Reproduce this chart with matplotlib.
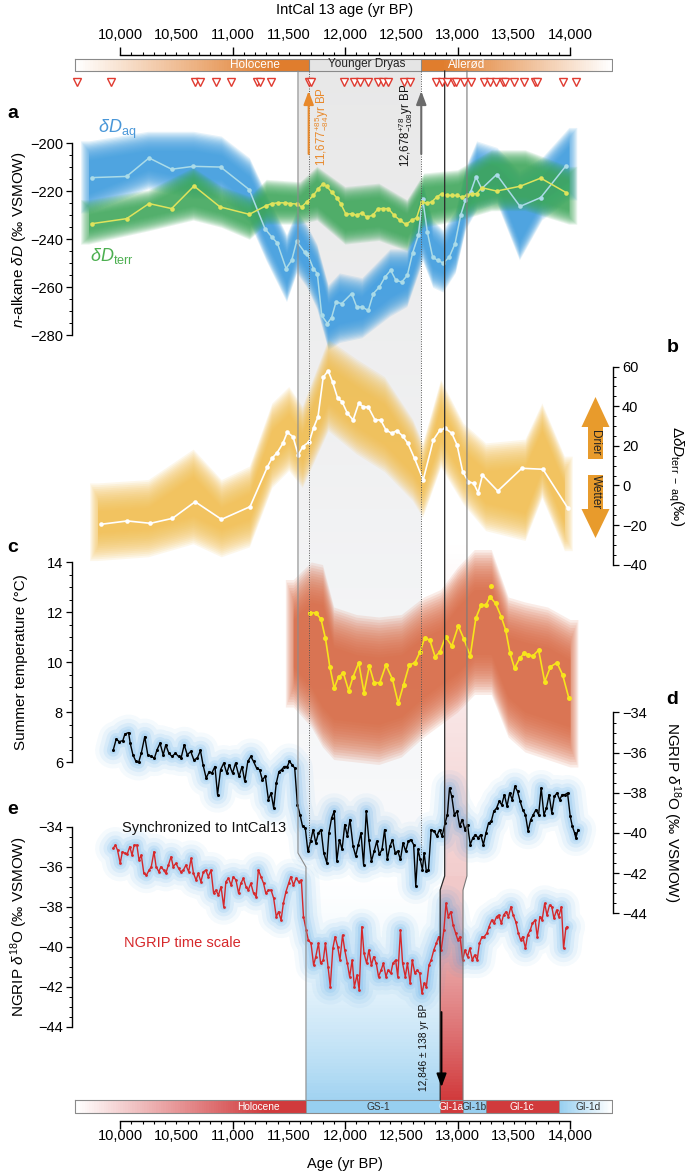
import numpy as np
import matplotlib
matplotlib.use('Agg')
import matplotlib.pyplot as plt
from matplotlib.patches import Polygon
from matplotlib.ticker import FixedLocator, FuncFormatter
from matplotlib.colors import to_rgb

plt.rcParams['font.family'] = ['Liberation Sans', 'DejaVu Sans']
plt.rcParams['mathtext.fontset'] = 'custom'
plt.rcParams['mathtext.rm'] = 'Liberation Sans'
plt.rcParams['mathtext.it'] = 'Liberation Sans:italic'
plt.rcParams['mathtext.bf'] = 'Liberation Sans:bold'

# ---------------- data (ages in yr BP) ----------------
# a: n-alkane dD
aq_yr = [9748, 10059, 10258, 10459, 10652, 10895, 11149, 11289, 11348, 11398, 11476, 11526, 11570, 11640, 11665,
         11719, 11754, 11793, 11843, 11881, 11920, 11970, 12059, 12104, 12148, 12207, 12252, 12305, 12356, 12406,
         12453, 12504, 12554, 12601, 12652, 12690, 12732, 12779, 12824, 12874, 12927, 12978, 13028, 13069, 13117,
         13164, 13215, 13348, 13556, 13740, 13964]
aq_val = [-214.3, -213.8, -206.1, -210.8, -209.6, -209.9, -219.3, -235.6, -239.0, -241.5, -252.2, -248.8, -240.8,
          -245.3, -246.0, -252.2, -254.3, -271.7, -275.1, -272.6, -266.1, -266.8, -262.6, -268.2, -268.2, -269.6,
          -262.6, -259.9, -255.7, -252.9, -257.1, -257.8, -255.0, -245.7, -238.3, -223.0, -237.0, -247.4, -248.8,
          -249.9, -247.4, -241.8, -230.0, -223.8, -220.3, -214.0, -218.9, -213.0, -226.3, -222.6, -209.4]
aq_band_yr = [9720, 10250, 10650, 10900, 11150, 11300, 11480, 11570, 11660, 11750, 11850, 11950, 12150, 12400,
              12550, 12690, 12780, 12870, 12980, 13070, 13170, 13350, 13550, 13750, 13990]
aq_band_hi = [-203, -199, -199, -201, -210, -225, -242, -232, -238, -246, -263, -258, -260, -248, -248, -220, -236,
              -240, -232, -214, -203, -205.7, -215.4, -209.9, -197.4]
aq_band_lo = [-225, -215, -219, -219, -229, -245, -262, -250, -256, -265, -282, -279, -277, -268, -264, -245, -256,
              -258, -250, -232, -223.8, -221, -244.6, -227.9, -219.6]

terr_yr = [9748, 10059, 10258, 10459, 10658, 10889, 11149, 11295, 11348, 11407, 11467, 11511, 11570, 11615, 11659,
           11719, 11763, 11801, 11837, 11881, 11926, 11961, 12009, 12059, 12104, 12148, 12193, 12246, 12296, 12341,
           12385, 12436, 12489, 12542, 12593, 12637, 12681, 12726, 12770, 12815, 12859, 12909, 12948, 12993, 13037,
           13081, 13126, 13170, 13215, 13348, 13556, 13740, 13964]
terr_val = [-233.5, -231.4, -225.1, -227.2, -217.8, -226.5, -229.6, -226.1, -225.1, -224.8, -224.8, -225.1, -225.3,
            -226.5, -224.5, -221.7, -218.9, -217.1, -217.9, -220.3, -222.6, -225.1, -229.6, -229.3, -230.0, -229.0,
            -230.7, -230.0, -227.2, -227.2, -227.2, -230.0, -232.1, -233.8, -232.1, -231.0, -224.5, -224.9, -224.5,
            -222.4, -221.0, -221.7, -221.7, -221.7, -222.4, -221.7, -221.0, -221.0, -218.5, -219.9, -217.9, -214.5,
            -220.5]
terr_band_yr = [9720, 10250, 10650, 10900, 11150, 11300, 11600, 11750, 12000, 12300, 12550, 12700, 13000, 13300,
                13600, 13990]
terr_band_hi = [-226.5, -222.4, -213, -220.8, -225, -218, -219, -212.6, -221, -219.6, -226.5, -215.4, -214, -205.7,
                -205.7, -212.6]
terr_band_lo = [-239, -233.5, -229, -232, -237, -230.7, -230.7, -229, -239, -237.5, -241.8, -232, -229.3, -225.1,
                -225, -230.7]

# b: terr - aq difference
b_yr = [9830, 10064, 10270, 10466, 10668, 10902, 11156, 11311, 11350, 11397, 11448, 11487, 11538, 11584, 11624,
        11682, 11721, 11760, 11806, 11850, 11889, 11935, 11974, 12021, 12072, 12122, 12161, 12208, 12267, 12317,
        12364, 12415, 12461, 12512, 12559, 12618, 12695, 12785, 12844, 12891, 12949, 12996, 13046, 13097, 13144,
        13183, 13222, 13358, 13572, 13760, 13982]
b_val = [-19.6, -17.9, -19.1, -16.6, -8.2, -17.1, -10.7, 9.5, 13.7, 16.6, 21.3, 26.9, 24.6, 15.4, 19.6, 22.1, 29.2,
         34.7, 54.6, 58.0, 52.4, 44.0, 42.3, 36.5, 33.1, 41.5, 39.8, 39.5, 33.1, 33.1, 28.0, 26.4, 27.7, 25.0, 21.3,
         13.7, 2.8, 23.0, 28.0, 28.9, 26.4, 20.5, 7.0, 1.9, 1.1, -3.6, 5.3, -2.8, 8.7, 8.2, -11.5]
b_band_yr = [9800, 10250, 10650, 10900, 11150, 11350, 11500, 11620, 11850, 12100, 12350, 12600, 12690, 12850, 13050,
             13250, 13600, 13750, 13950]
b_band_hi = [-5.7, -4, 11.4, -4, 2.8, 34.7, 43, 33, 67, 57, 48, 26.5, 14.5, 46.6, 24.6, 14.5, 16.4, 34.7, 7.8]
b_band_lo = [-30.9, -29, -22.4, -29, -24, 6, 14.6, 6, 34.7, 23, 14, -0.6, -9, 16.4, -2.3, -15.8, -20.8, 1, -25.9]

# c: summer temperature
c_yr = [11693, 11740, 11787, 11826, 11865, 11904, 11943, 11986, 12033, 12072, 12122, 12169, 12216, 12259, 12309,
        12364, 12422, 12473, 12520, 12571, 12621, 12668, 12707, 12754, 12801, 12844, 12894, 12949, 13007, 13058,
        13113, 13163, 13210, 13253, 13288, 13338, 13389, 13428, 13467, 13507, 13553, 13592, 13631, 13670, 13721,
        13775, 13826, 13884, 13935, 13990]
c_val = [11.97, 11.97, 11.71, 10.95, 9.81, 8.95, 9.41, 9.55, 8.85, 9.41, 9.97, 8.77, 9.84, 9.17, 9.17, 9.88, 9.31,
         8.35, 9.08, 9.88, 9.97, 10.41, 10.95, 10.88, 10.21, 10.41, 11.01, 10.64, 11.44, 10.91, 10.24, 11.75, 12.28,
         12.28, 12.61, 12.35, 11.81, 11.28, 10.35, 9.75, 10.15, 10.35, 10.28, 10.24, 10.48, 9.21, 9.81, 9.97, 9.48,
         8.55]
c_lone_yr, c_lone_val = [13300], [13.04]
c_band_yr = [11540, 11700, 11800, 11900, 12100, 12300, 12500, 12700, 12850, 13000, 13150, 13300, 13450, 13600,
             13800, 14000]
c_band_hi = [12.5, 13.2, 13.1, 11.4, 11.1, 11.0, 11.1, 11.8, 12.1, 13.0, 13.7, 13.7, 11.8, 11.6, 11.4, 10.9]
c_band_lo = [9.0, 8.2, 7.4, 6.9, 6.8, 6.7, 7.0, 7.8, 8.3, 8.8, 9.5, 9.5, 7.8, 7.2, 6.9, 6.6]

# d: NGRIP d18O synchronized to IntCal13
d_yr = [9939, 9966, 9994, 10025, 10044, 10076, 10091, 10115, 10142, 10165, 10189, 10220, 10247, 10278, 10306, 10329,
        10356, 10384, 10407, 10434, 10462, 10493, 10520, 10543, 10571, 10598, 10629, 10656, 10687, 10715, 10738,
        10766, 10793, 10816, 10844, 10867, 10894, 10922, 10949, 10972, 11000, 11027, 11058, 11085, 11109, 11136,
        11163, 11187, 11214, 11241, 11265, 11292, 11319, 11343, 11366, 11389, 11413, 11436, 11460, 11487, 11506,
        11530, 11553, 11577, 11600, 11623, 11647, 11670, 11694, 11717, 11740, 11764, 11787, 11811, 11838, 11857,
        11881, 11904, 11927, 11951, 11974, 11998, 12021, 12044, 12072, 12095, 12118, 12142, 12165, 12189, 12212,
        12235, 12259, 12282, 12305, 12329, 12352, 12376, 12399, 12422, 12446, 12469, 12493, 12516, 12539, 12563,
        12586, 12610, 12629, 12649, 12668, 12688, 12703, 12723, 12742, 12766, 12793, 12816, 12840, 12863, 12890,
        12910, 12929, 12949, 12972, 12996, 13019, 13042, 13066, 13089, 13113, 13136, 13159, 13183, 13206, 13230,
        13253, 13276, 13300, 13323, 13347, 13370, 13393, 13417, 13440, 13463, 13487, 13510, 13534, 13557, 13580,
        13604, 13627, 13651, 13674, 13697, 13721, 13744, 13768, 13791, 13814, 13838, 13861, 13884, 13908, 13931,
        13955, 13978, 14002, 14021, 14041, 14052, 14072]
d_val = [-35.89, -35.33, -35.45, -35.40, -35.07, -35.00, -35.53, -36.11, -36.44, -36.49,
         -36.03, -35.20, -36.11, -36.19, -36.27, -35.86, -35.53, -36.11, -35.61, -36.03,
         -36.19, -36.03, -36.19, -36.27, -35.61, -36.11, -35.94, -36.36, -36.27, -35.89,
         -36.60, -37.27, -36.94, -37.02, -36.69, -38.09, -36.85, -36.52, -37.02, -36.60,
         -37.02, -36.52, -37.18, -36.69, -37.43, -36.44, -36.19, -36.44, -36.77, -36.85,
         -37.35, -37.18, -38.34, -38.01, -38.76, -37.52, -36.94, -36.85, -36.69, -36.69,
         -36.44, -36.60, -36.77, -38.59, -39.09, -39.67, -39.75, -40.91, -40.41, -39.83,
         -40.49, -40.00, -39.83, -40.99, -41.48, -40.00, -39.25, -38.92, -41.40, -40.33,
         -40.82, -39.58, -40.16, -39.33, -40.66, -41.15, -40.58, -40.00, -41.57, -38.92,
         -40.33, -41.40, -40.91, -40.41, -41.07, -40.82, -39.83, -41.32, -40.66, -40.33,
         -40.99, -40.91, -41.32, -40.49, -40.91, -40.41, -40.33, -40.58, -42.64, -40.82,
         -41.32, -41.82, -40.99, -41.90, -41.82, -39.83, -39.91, -40.16, -39.83, -40.16,
         -39.50, -39.09, -37.76, -38.18, -39.09, -38.92, -39.67, -39.33, -39.83, -39.58,
         -40.58, -40.25, -40.08, -40.25, -40.08, -40.58, -40.00, -39.50, -39.42, -38.92,
         -38.76, -38.43, -38.59, -38.09, -38.67, -38.01, -38.34, -37.68, -37.93, -38.43,
         -38.84, -39.09, -39.91, -39.33, -39.09, -38.84, -39.09, -37.76, -39.09, -38.76,
         -38.09, -39.00, -38.18, -38.01, -38.34, -38.09, -38.09, -38.01, -39.17, -39.67,
         -40.00, -40.25, -39.83]

# e: NGRIP d18O on the NGRIP time scale
e_yr = [9939, 9959, 9978, 10002, 10021, 10044, 10064, 10087, 10107, 10126, 10150, 10169, 10189, 10212, 10235, 10259,
        10278, 10302, 10321, 10345, 10364, 10388, 10407, 10430, 10454, 10473, 10497, 10520, 10540, 10563, 10586,
        10610, 10633, 10653, 10676, 10696, 10719, 10742, 10762, 10785, 10809, 10832, 10852, 10875, 10898, 10922,
        10941, 10964, 10988, 11007, 11031, 11054, 11074, 11097, 11120, 11140, 11163, 11187, 11210, 11230, 11253,
        11276, 11296, 11319, 11343, 11366, 11389, 11409, 11432, 11452, 11475, 11499, 11518, 11542, 11565, 11588,
        11612, 11631, 11655, 11674, 11698, 11721, 11740, 11764, 11783, 11807, 11826, 11849, 11869, 11892, 11912,
        11935, 11955, 11978, 11998, 12021, 12041, 12064, 12083, 12107, 12126, 12150, 12169, 12192, 12212, 12235,
        12255, 12278, 12298, 12321, 12341, 12364, 12383, 12407, 12426, 12450, 12469, 12493, 12512, 12536, 12555,
        12579, 12598, 12621, 12641, 12664, 12684, 12703, 12723, 12746, 12766, 12789, 12812, 12832, 12855, 12879,
        12898, 12918, 12941, 12961, 12984, 13003, 13023, 13046, 13066, 13089, 13109, 13132, 13152, 13175, 13195,
        13218, 13237, 13261, 13280, 13304, 13323, 13347, 13366, 13390, 13409, 13432, 13452, 13475, 13495, 13518,
        13541, 13561, 13580, 13604, 13623, 13647, 13666, 13690, 13709, 13732, 13752, 13775, 13795, 13818, 13838,
        13857, 13881, 13900, 13924, 13943, 13963, 13974]
e_val = [-35.08, -34.92, -35.17, -35.83, -35.25, -35.33, -35.37, -35.00, -35.42, -34.92,
         -34.92, -35.67, -35.42, -36.33, -36.42, -36.17, -36.00, -35.25, -36.00, -36.25,
         -36.00, -36.17, -36.33, -35.92, -35.50, -36.00, -35.83, -36.08, -36.25, -36.17,
         -35.92, -36.25, -35.58, -36.33, -36.67, -36.33, -36.75, -36.25, -36.17, -36.50,
         -36.17, -37.33, -37.17, -37.42, -37.00, -38.00, -36.75, -36.58, -36.92, -36.50,
         -36.67, -37.33, -36.83, -36.58, -37.00, -37.17, -36.83, -37.33, -37.50, -36.17,
         -36.50, -36.83, -37.33, -37.17, -37.17, -37.58, -38.50, -38.25, -38.67, -37.83,
         -37.25, -36.83, -36.50, -36.92, -36.58, -36.75, -36.67, -38.50, -39.17, -39.67,
         -39.83, -40.92, -40.50, -39.83, -40.83, -40.67, -39.83, -41.00, -42.00, -40.08,
         -39.50, -40.00, -40.67, -39.42, -40.17, -40.83, -41.50, -40.67, -42.00, -41.42,
         -42.17, -39.00, -40.33, -40.83, -40.17, -40.92, -40.50, -40.83, -41.50, -41.17,
         -40.83, -41.50, -41.17, -41.33, -40.83, -40.67, -41.50, -39.17, -40.83, -41.50,
         -40.83, -41.83, -40.67, -41.33, -41.17, -41.33, -42.33, -41.83, -42.00, -40.92,
         -40.67, -40.17, -39.83, -39.50, -40.17, -39.17, -37.83, -38.50, -38.25, -38.92,
         -39.33, -39.67, -39.50, -40.67, -40.17, -40.50, -40.08, -40.67, -40.42, -40.67,
         -39.83, -39.50, -39.50, -39.33, -39.00, -38.67, -38.83, -38.50, -38.42, -38.83,
         -38.42, -38.25, -38.50, -38.00, -38.42, -38.75, -39.33, -39.67, -39.50, -40.08,
         -39.42, -39.17, -38.83, -38.67, -39.50, -38.50, -38.67, -37.83, -38.42, -37.92,
         -38.00, -38.58, -38.17, -38.50, -38.00, -40.08, -39.08, -39.00]

# radiocarbon dated levels (triangles)
tri_yr = [9615, 9917, 10667, 10711, 10853, 10984, 11215, 11244, 11340, 11678, 11700, 11991, 12080, 12133, 12204,
          12293, 12340, 12382, 12524, 12578, 12809, 12862, 12908, 12969, 12987, 13058, 13122, 13236, 13289, 13342,
          13406, 13424, 13502, 13591, 13691, 13705, 13940, 14053]

age_ticks = [10000, 11000, 12000, 13000, 14000]
age_minor = list(range(10000, 14001, 100))
a_ticks, a_minor = [-280, -260, -240, -220, -200], list(range(-280, -199, 5))
b_ticks, b_minor = [-40, -20, 0, 20, 40, 60], list(range(-40, 61, 5))
c_ticks, c_minor = [6, 8, 10, 12, 14], list(np.arange(6, 14.01, 0.5))
o_ticks, o_minor = [-44, -42, -40, -38, -36, -34], list(np.arange(-44, -33.9, 0.5))

# top / bottom stratigraphic bars
top_bar = [('Holocene', 9600, 11677), ('Younger Dryas', 11677, 12678), ('Allerød', 12678, 14373)]
bot_bar = [('Holocene', 9600, 11653), ('GS-1', 11653, 12846), ('GI-1a', 12846, 13049),
           ('GI-1b', 13049, 13253), ('GI-1c', 13253, 13902), ('GI-1d', 13902, 14373)]

# ---------------- layout ----------------
W, H = 685, 1173
X0, X1 = 72, 613
YR0 = 10000 + (X0 - 120) / 0.1125
YR1 = 10000 + (X1 - 120) / 0.1125

ORANGE = '#e07d2d'
RED = '#d13a3c'
LBLUE = '#97cff0'

fig = plt.figure(figsize=(W / 100, H / 100), dpi=100)


def box(top, bottom):
    return [X0 / W, 1 - bottom / H, (X1 - X0) / W, (bottom - top) / H]


def ftext(x, y, s, **kw):
    kw.setdefault('ha', 'center')
    kw.setdefault('va', 'center')
    fig.text(x / W, 1 - y / H, s, **kw)


def mix(c0, c1, t):
    c0, c1 = np.array(to_rgb(c0)), np.array(to_rgb(c1))
    return tuple(c0 + (c1 - c0) * t)


def vgrad(ax, xl, xr, y0, y1, c0, c1, n=70, gamma=1.0):
    ys = np.linspace(y0, y1, n + 1)
    for i in range(n):
        t = (i / (n - 1)) ** gamma
        ax.fill_between([xl, xr], ys[i], ys[i + 1] + 0.6, color=mix(c0, c1, t), lw=0, antialiased=False)


def hgrad(ax, x0, x1, y0, y1, c0, c1, n=80):
    xs = np.linspace(x0, x1, n + 1)
    for i in range(n):
        ax.fill_between([xs[i], xs[i + 1] + 3], y0, y1, color=mix(c0, c1, i / (n - 1)), lw=0, antialiased=False)


def fuzzy_band(ax, x, lo, hi, color, spread, xspread=70, layers=16, alpha=0.11):
    # stack of slightly shifted envelopes gives the blurred look of the ensemble bands
    x = list(x)
    lo, hi = list(lo), list(hi)
    for i in range(layers):
        f = 1 - 2 * i / (layers - 1)
        e = spread * f
        ex = xspread * max(f, 0)
        xx = [x[0] - ex] + x + [x[-1] + ex]
        ll = np.array([lo[0]] + lo + [lo[-1]]) - e
        hh = np.array([hi[0]] + hi + [hi[-1]]) + e
        ax.fill_between(xx, ll, hh, color=color, alpha=alpha, lw=0)


def glow(ax, x, y, color):
    for lw, a in [(26, 0.05), (20, 0.07), (14, 0.09), (9, 0.12), (5, 0.14)]:
        ax.plot(x, y, color=color, lw=lw, alpha=a, solid_joinstyle='round', solid_capstyle='round')


def minus(v, pos=None):
    return ('%g' % v).replace('-', '\u2212')


def panel(top, bottom, v_ref, y_ref, ppu, side, ticks, minor):
    ax = fig.add_axes(box(top, bottom))
    ax.set_xlim(YR0, YR1)
    ax.set_ylim(v_ref - (bottom - y_ref) / ppu, v_ref + (y_ref - top) / ppu)
    ax.patch.set_visible(False)
    for s in ax.spines.values():
        s.set_visible(False)
    ax.spines[side].set_visible(True)
    ax.spines[side].set_bounds(min(ticks), max(ticks))
    ax.spines[side].set_linewidth(1.0)
    ax.set_xticks([])
    ax.yaxis.set_ticks_position(side)
    ax.yaxis.set_major_locator(FixedLocator(ticks))
    ax.yaxis.set_minor_locator(FixedLocator(minor))
    ax.yaxis.set_major_formatter(FuncFormatter(minus))
    ax.tick_params(axis='y', which='major', length=4, width=0.9, labelsize=10.5, pad=2.5)
    ax.tick_params(axis='y', which='minor', length=2, width=0.7)
    return ax


# background shading (x in years, y in pixels)
bg = fig.add_axes([X0 / W, 0, (X1 - X0) / W, 1])
bg.set_xlim(YR0, YR1)
bg.set_ylim(H, 0)
bg.axis('off')
bg.set_zorder(-1)
vgrad(bg, 11582, 12678, 71, 858, '#e8e8e8', '#f8f9fb')
vgrad(bg, 11653, 12846, 862, 1100, '#ffffff', '#a2d3f1', gamma=1.8)
vgrad(bg, 12886, 13084, 540, 877, '#ffffff', '#f2cdcd')
bg.add_patch(Polygon([(12886, 876), (13084, 876), (13049, 891), (12846, 891)], closed=True,
                     facecolor='#f1c9c9', lw=0))
vgrad(bg, 12846, 13049, 890, 1100, '#f0c6c6', RED, gamma=1.3)

# ---------------- panels ----------------
ax_a = panel(95, 350, -200, 143.3, 2.4, 'left', a_ticks, a_minor)
fuzzy_band(ax_a, aq_band_yr, aq_band_lo, aq_band_hi, '#3d9de0', 4, alpha=0.13)
fuzzy_band(ax_a, terr_band_yr, terr_band_lo, terr_band_hi, '#3ea85a', 3, alpha=0.12)
ax_a.plot(aq_yr, aq_val, '-o', color='#aadbe8', lw=1.1, ms=3.3, mew=0)
ax_a.plot(terr_yr, terr_val, '-o', color='#dfe35c', lw=1.1, ms=3.3, mew=0)

ax_b = panel(340, 580, 60, 366.7, 1.98, 'right', b_ticks, b_minor)
fuzzy_band(ax_b, b_band_yr, b_band_lo, b_band_hi, '#f2bc48', 7)
ax_b.plot(b_yr, b_val, '-o', color='white', lw=1.2, ms=3.3, mew=0)

ax_c = panel(540, 800, 14, 562, 25, 'left', c_ticks, c_minor)
fuzzy_band(ax_c, c_band_yr, c_band_lo, c_band_hi, '#d9663f', 0.8, alpha=0.12)
ax_c.plot(c_yr, c_val, '-o', color='#f7e41c', lw=1.2, ms=3.6, mew=0)
ax_c.plot(c_lone_yr, c_lone_val, 'o', color='#f7e41c', ms=3.6, mew=0)

ax_d = panel(690, 930, -34, 712.5, 20.08, 'right', o_ticks, o_minor)
glow(ax_d, d_yr, d_val, '#3f9de6')
ax_d.plot(d_yr, d_val, '-o', color='black', lw=1.0, ms=2.2, mew=0)

ax_e = panel(800, 1045, -34, 826.7, 20, 'left', o_ticks, o_minor)
glow(ax_e, e_yr, e_val, '#3f9de6')
ax_e.plot(e_yr, e_val, '-o', color='#d6282b', lw=1.0, ms=2.0, mew=0)


# ---------------- age axes ----------------
def age_axis(y_spine, top):
    if top:
        ax = fig.add_axes([X0 / W, 1 - (y_spine + 1) / H, (X1 - X0) / W, 1 / H])
    else:
        ax = fig.add_axes([X0 / W, 1 - y_spine / H, (X1 - X0) / W, 1 / H])
    ax.set_xlim(YR0, YR1)
    ax.patch.set_visible(False)
    ax.set_yticks([])
    side = 'top' if top else 'bottom'
    for s in ax.spines.values():
        s.set_visible(False)
    ax.spines[side].set_visible(True)
    ax.spines[side].set_bounds(10000, 14000)
    ax.spines[side].set_linewidth(1.0)
    ax.xaxis.set_ticks_position(side)
    ax.xaxis.set_major_locator(FixedLocator(age_ticks))
    ax.xaxis.set_minor_locator(FixedLocator(age_minor))
    ax.xaxis.set_major_formatter(FuncFormatter(lambda v, p: f'{v:,.0f}'))
    ax.xaxis.set_minor_formatter(FuncFormatter(lambda v, p: f'{v:,.0f}' if round(v) % 500 == 0 else ''))
    gap = 9.5 if top else 5.8
    ax.tick_params(axis='x', which='major', length=5.6, width=1.0, labelsize=10.5, pad=gap - 5.6)
    ax.tick_params(axis='x', which='minor', length=2.5, width=0.8, labelsize=10.5, pad=gap - 2.5)
    return ax


age_axis(55, True)
age_axis(1121, False)
ftext(345, 10, 'IntCal 13 age (yr BP)', fontsize=10.5)
ftext(345, 1164, 'Age (yr BP)', fontsize=10.5)

# ---------------- overlay (bars, lines, triangles, arrows) ----------------
ov = fig.add_axes([X0 / W, 0, (X1 - X0) / W, 1])
ov.set_xlim(YR0, YR1)
ov.set_ylim(H, 0)
ov.axis('off')
ov.set_zorder(10)

# top bar
ty0, ty1 = 58.5, 71
hgrad(ov, 9600, 11400, ty0, ty1, '#ffffff', ORANGE)
ov.fill_between([11400, 11677], ty0, ty1, color=ORANGE, lw=0)
ov.fill_between([11677, 12678], ty0, ty1, color='#e5e5e5', lw=0)
ov.fill_between([12678, 12860], ty0, ty1, color=ORANGE, lw=0)
hgrad(ov, 12860, 14373, ty0, ty1, ORANGE, '#ffffff')
ov.plot([9600, 14373, 14373, 9600, 9600], [ty0, ty0, ty1, ty1, ty0], color='#8a8a8a', lw=0.8)
for x in [11677, 12678]:
    ov.plot([x, x], [ty0, ty1], color='#8a8a8a', lw=0.8)
ov.text(11197, 65, 'Holocene', color='white', fontsize=8.5, ha='center', va='center')
ov.text(12195, 64.5, 'Younger Dryas', color='#222222', fontsize=8.5, ha='center', va='center')
ov.text(13084, 65, 'Allerød', color='white', fontsize=8.5, ha='center', va='center')

# bottom bar
by0, by1 = 1100, 1112.7
hgrad(ov, 9600, 11300, by0, by1, '#ffffff', RED)
ov.fill_between([11300, 11653], by0, by1, color=RED, lw=0)
ov.fill_between([11653, 12846], by0, by1, color=LBLUE, lw=0)
ov.fill_between([12846, 13049], by0, by1, color=RED, lw=0)
ov.fill_between([13049, 13253], by0, by1, color=LBLUE, lw=0)
ov.fill_between([13253, 13902], by0, by1, color=RED, lw=0)
hgrad(ov, 13902, 14373, by0, by1, LBLUE, '#ffffff', n=40)
ov.plot([9600, 14373, 14373, 9600, 9600], [by0, by0, by1, by1, by0], color='#8a8a8a', lw=0.8)
for name, s, e in bot_bar:
    ov.plot([e, e], [by0, by1], color='#8a8a8a', lw=0.6)
label_x = {'Holocene': 11227, 'GS-1': 12293, 'GI-1a': 12942, 'GI-1b': 13150, 'GI-1c': 13570, 'GI-1d': 14163}
for name, s, e in bot_bar:
    col = 'white' if name in ('Holocene', 'GI-1a', 'GI-1c') else '#333333'
    ov.text(label_x[name], 1106.5, name, color=col, fontsize=7.3, ha='center', va='center')

# tie lines between the two time scales
ov.plot([11582, 11582, 11653, 11653], [71, 853, 867, 1100], color='#8c8c8c', lw=0.8)
ov.plot([12886, 12886, 12846, 12846], [71, 876, 890, 1100], color='#2a2a2a', lw=0.9)
ov.plot([13084, 13084, 13049, 13049], [71, 876, 890, 1100], color='#7a7a7a', lw=0.8)
ov.plot([11677, 11677], [71, 850], color='#555555', lw=0.7, ls=(0, (1, 1.5)))
ov.plot([12678, 12678], [71, 856], color='#555555', lw=0.7, ls=(0, (1, 1.5)))

# dated levels
ov.plot(tri_yr, [82] * len(tri_yr), 'v', ms=6.0, mfc='white', mec='#e03a30', mew=1.0, ls='none')

# age arrows
ov.annotate('', xy=(11677, 91), xytext=(11677, 154),
            arrowprops=dict(arrowstyle='-|>,head_length=0.8,head_width=0.3', color='#e8892b', lw=1.5,
                            shrinkA=0, shrinkB=0))
ov.annotate('', xy=(12678, 91), xytext=(12678, 154),
            arrowprops=dict(arrowstyle='-|>,head_length=0.8,head_width=0.3', color='#6b6b6b', lw=1.5,
                            shrinkA=0, shrinkB=0))
ov.text(11795, 127, r'11,677$^{+85}_{-84}$yr BP', rotation=90, color='#e8892b', fontsize=8.3,
        ha='center', va='center')
ov.text(12535, 125, r'12,678$^{+78}_{-108}$yr BP', rotation=90, color='#111111', fontsize=8.3,
        ha='center', va='center')
ov.annotate('', xy=(12858, 1087), xytext=(12858, 1012),
            arrowprops=dict(arrowstyle='-|>,head_length=0.8,head_width=0.3', color='black', lw=1.3,
                            shrinkA=0, shrinkB=0))
ov.text(12700, 1047, '12,846 \u00b1 138 yr BP', rotation=90, color='#111111', fontsize=7.3,
        ha='center', va='center')

# ---------------- pixel overlay for decorations ----------------
px = fig.add_axes([0, 0, 1, 1])
px.set_xlim(0, W)
px.set_ylim(H, 0)
px.axis('off')
px.set_zorder(11)
ARR = '#e89b2c'
px.add_patch(Polygon([(588, 459), (588, 427), (581.5, 427), (595.5, 397), (609.5, 427), (603, 427), (603, 459)],
                     closed=True, facecolor=ARR, lw=0))
px.add_patch(Polygon([(588, 475), (588, 509), (581.5, 509), (595.5, 538), (609.5, 509), (603, 509), (603, 475)],
                     closed=True, facecolor=ARR, lw=0))
px.text(595.5, 443, 'Drier', rotation=-90, fontsize=8.5, ha='center', va='center', color='#222222')
px.text(595.5, 492, 'Wetter', rotation=-90, fontsize=8.5, ha='center', va='center', color='#222222')

# panel letters
for s, x, y in [('a', 13, 113), ('b', 673, 348), ('c', 13, 548), ('d', 672, 700), ('e', 13, 810)]:
    ftext(x, y, s, fontsize=14, fontweight='bold')

# axis titles
ftext(19, 240, r'$n$-alkane $\delta D$ (‰ VSMOW)', rotation=90, fontsize=11)
ftext(676, 476, r'$\Delta\delta D_{\mathrm{terr\ -\ aq}}$(‰)', rotation=-90, fontsize=11)
ftext(21, 662, 'Summer temperature (°C)', rotation=90, fontsize=11)
ftext(672, 812, r'NGRIP $\delta^{18}$O (‰ VSMOW)', rotation=-90, fontsize=11)
ftext(19, 927, r'NGRIP $\delta^{18}$O (‰ VSMOW)', rotation=90, fontsize=11)

# series labels
ftext(117, 129, r'$\delta D_{\mathrm{aq}}$', fontsize=13, color='#4a97d8')
ftext(112, 256, r'$\delta D_{\mathrm{terr}}$', fontsize=13, color='#4caf50')
ftext(204, 828, 'Synchronized to IntCal13', fontsize=10.5, color='#111111')
ftext(182, 943, 'NGRIP time scale', fontsize=10.5, color='#d6282b')

fig.savefig('out.png', dpi=100)
